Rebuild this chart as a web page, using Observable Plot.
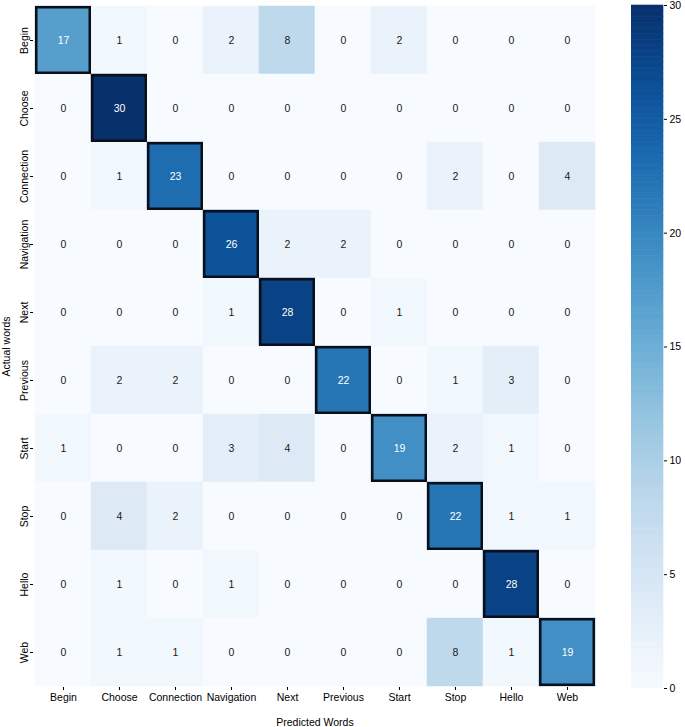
<!DOCTYPE html>
<html>
<head>
<meta charset="utf-8">
<script src="https://cdn.jsdelivr.net/npm/d3@7"></script>
<script src="https://cdn.jsdelivr.net/npm/@observablehq/plot@0.6"></script>
<style>
  html, body { margin: 0; padding: 0; background: #fff; }
  #wrap { position: relative; width: 685px; height: 727px; }
  #wrap > svg, #wrap > figure { position: absolute; top: 0; margin: 0; }
</style>
</head>
<body>
<div id="wrap"></div>
<script>
const labels = ["Begin", "Choose", "Connection", "Navigation", "Next", "Previous", "Start", "Stop", "Hello", "Web"];
const rowBegin      = [17, 1, 0, 2, 8, 0, 2, 0, 0, 0];
const rowChoose     = [0, 30, 0, 0, 0, 0, 0, 0, 0, 0];
const rowConnection = [0, 1, 23, 0, 0, 0, 0, 2, 0, 4];
const rowNavigation = [0, 0, 0, 26, 2, 2, 0, 0, 0, 0];
const rowNext       = [0, 0, 0, 1, 28, 0, 1, 0, 0, 0];
const rowPrevious   = [0, 2, 2, 0, 0, 22, 0, 1, 3, 0];
const rowStart      = [1, 0, 0, 3, 4, 0, 19, 2, 1, 0];
const rowStop       = [0, 4, 2, 0, 0, 0, 0, 22, 1, 1];
const rowHello      = [0, 1, 0, 1, 0, 0, 0, 0, 28, 0];
const rowWeb        = [0, 1, 1, 0, 0, 0, 0, 8, 1, 19];
const colorTicks = [0, 5, 10, 15, 20, 25, 30];

const rows = [rowBegin, rowChoose, rowConnection, rowNavigation, rowNext, rowPrevious, rowStart, rowStop, rowHello, rowWeb];
const cells = [];
rows.forEach((r, i) => r.forEach((v, j) => cells.push({actual: labels[i], predicted: labels[j], v, diag: i === j})));

const font = {fontFamily: "'Liberation Sans', Arial, sans-serif", fontSize: "10.5px", background: "transparent"};
const colorOpt = {type: "linear", scheme: "blues", domain: [0, 30]};

const heat = Plot.plot({
  width: 685, height: 727,
  marginLeft: 33, marginRight: 89, marginTop: 5, marginBottom: 40,
  style: font,
  x: {domain: labels, padding: 0, label: null},
  y: {domain: labels, padding: 0, label: null},
  color: colorOpt,
  marks: [
    Plot.cell(cells, {x: "predicted", y: "actual", fill: "v", stroke: "v", strokeWidth: 0.5, inset: 0}),
    Plot.cell(cells.filter(d => d.diag), {x: "predicted", y: "actual", fill: "none", stroke: "#0b0f1a", strokeWidth: 2.5, inset: 1.25}),
    Plot.text(cells.filter(d => d.v > 15), {x: "predicted", y: "actual", text: "v", fill: "white", fontSize: 10.5}),
    Plot.text(cells.filter(d => d.v <= 15), {x: "predicted", y: "actual", text: "v", fill: "#1a1a1a", fontSize: 10.5}),
    Plot.axisX({anchor: "bottom", tickSize: 3, tickPadding: 3, label: "Predicted Words", labelAnchor: "center", labelOffset: 38}),
    Plot.axisY({anchor: "left", tickSize: 3, tickPadding: 3, tickRotate: -90, label: "Actual words", labelAnchor: "center", labelOffset: 31})
  ]
});
heat.style.left = "0px";
document.getElementById("wrap").appendChild(heat);

const ramp = d3.range(0, 30, 0.25);
const bar = Plot.plot({
  width: 58, height: 727,
  marginLeft: 0, marginRight: 26, marginTop: 5, marginBottom: 39,
  style: font,
  x: {axis: null},
  y: {domain: [0, 30], ticks: colorTicks, label: null},
  color: colorOpt,
  marks: [
    Plot.rect(ramp, {y1: d => d, y2: d => d + 0.25, fill: d => d + 0.125, stroke: d => d + 0.125, strokeWidth: 0.6}),
    Plot.axisY({anchor: "right", ticks: colorTicks, tickSize: 3, tickPadding: 3, label: null})
  ]
});
bar.style.left = "631px";
document.getElementById("wrap").appendChild(bar);
</script>
</body>
</html>
